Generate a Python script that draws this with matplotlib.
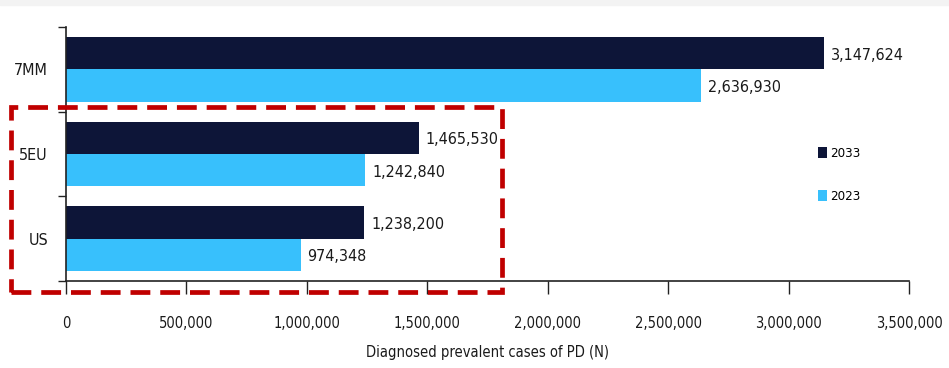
import numpy as np
import matplotlib.pyplot as plt
from matplotlib.patches import Rectangle

# datos
regiones = ["US", "5EU", "7MM"]
casos_2033 = [1238200, 1465530, 3147624]
casos_2023 = [974348, 1242840, 2636930]
xticks = [0, 500000, 1000000, 1500000, 2000000, 2500000, 3000000, 3500000]

oscuro = "#0d1538"
claro = "#38c0fc"

plt.rcParams['font.family'] = ['DejaVu Sans']
plt.rcParams['font.stretch'] = 'condensed'

fig = plt.figure(figsize=(9.49, 3.68), dpi=100)
W, H = 949, 368
ax = fig.add_axes([66 / W, 1 - 281 / H, (909 - 66) / W, (281 - 27) / H])

y = np.arange(len(regiones))
h = 0.38
b1 = ax.barh(y + h / 2, casos_2033, height=h, color=oscuro, label="2033")
b2 = ax.barh(y - h / 2, casos_2023, height=h, color=claro, label="2023")

for bars, vals in [(b1, casos_2033), (b2, casos_2023)]:
    for r, v in zip(bars, vals):
        ax.annotate(f"{v:,}", (v, r.get_y() + r.get_height() / 2),
                    xytext=(5, -1.5), textcoords="offset points",
                    ha="left", va="center", fontsize=11.5, color="#1a1a1a")

ax.set_xlim(0, 3500000)
ax.set_ylim(-0.5, 2.5)
ax.set_xticks(xticks)
ax.set_xticklabels([f"{t:,}" for t in xticks], fontsize=10.5, color="#1a1a1a")
ax.set_yticks(y)
ax.set_yticklabels(regiones, fontsize=11.5, color="#1a1a1a")
ax.set_yticks([-0.5, 0.5, 1.5, 2.5], minor=True)
ax.tick_params(axis="y", which="major", length=0, pad=13)
ax.tick_params(axis="y", which="minor", length=6, width=1, color="#222222")
ax.tick_params(axis="x", length=9, width=1, color="#222222", pad=16)
ax.set_xlabel("Diagnosed prevalent cases of PD (N)", fontsize=10.5, color="#1a1a1a", labelpad=10)

for s in ["top", "right"]:
    ax.spines[s].set_visible(False)
for s in ["left", "bottom"]:
    ax.spines[s].set_color("#222222")
    ax.spines[s].set_linewidth(1.2)

ax.legend(handles=[b1, b2], loc="center left", bbox_to_anchor=(806 / W, 1 - 175 / H),
          bbox_transform=fig.transFigure, frameon=False, fontsize=9.5,
          handlelength=0.7, handleheight=0.9, handletextpad=0.2, labelspacing=2.3)

# banda gris superior
fig.patches.append(Rectangle((0, 1 - 5 / H), 1, 5 / H, transform=fig.transFigure,
                             color="#f3f3f3", zorder=0))

# recuadro rojo punteado
fig.patches.append(Rectangle((11 / W, 1 - 292 / H), (502 - 11) / W, (292 - 107) / H,
                             transform=fig.transFigure, fill=False, edgecolor="#c00000",
                             linewidth=3.4, linestyle=(0, (4.2, 2.1)), zorder=5))

plt.savefig("out.png", dpi=100)
